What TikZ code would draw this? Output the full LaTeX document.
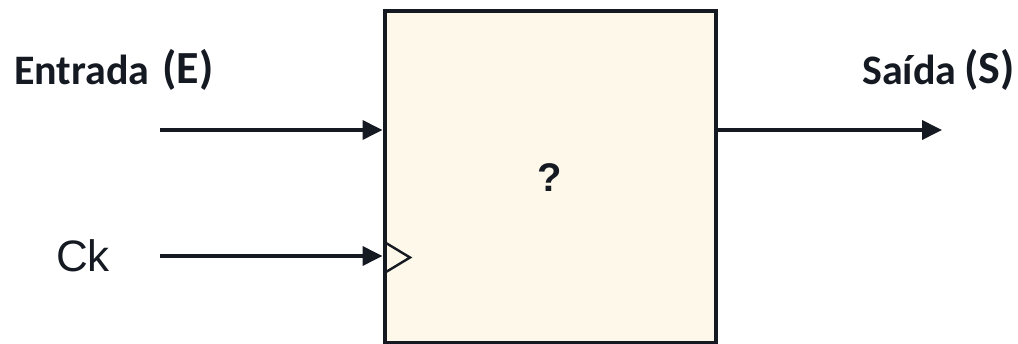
\documentclass[tikz,border=0pt]{standalone}
\usepackage{fontspec}
\setmainfont{Carlito}
\newfontfamily\arialf{Liberation Sans}
\usetikzlibrary{arrows.meta}
\definecolor{ink}{HTML}{151A22}
\definecolor{cream}{HTML}{FDF8E9}
\tikzset{
  lbl/.style={anchor=base west, inner sep=0pt, text=ink, font=\bfseries\fontsize{42}{44}\selectfont},
  biglbl/.style={lbl, font=\bfseries\fontsize{46}{48}\selectfont},
  conn/.style={draw=ink, line width=3.8pt, -{Triangle[length=20pt,width=19pt]}},
  blockbox/.style={draw=ink, fill=cream, line width=4pt, minimum width=331pt, minimum height=332pt, inner sep=0pt}
}
\begin{document}
\begin{tikzpicture}[x=1pt,y=-1pt]
\useasboundingbox (0,0) rectangle (1018,344);
\node[blockbox] (blk) at (550,177) {};
\node[anchor=base, inner sep=0pt, text=ink, font=\arialf\bfseries\fontsize{40}{42}\selectfont] (q) at (550,192) {?};
\node[lbl] (ent) at (14,85) {Entrada};
\node[biglbl] (eE) at (162,84) {(E)};
\node[lbl] (sai) at (862,85) {Saída};
\node[biglbl] (sS) at (964,84) {(S)};
\node[anchor=base west, inner sep=0pt, text=ink, font=\arialf\fontsize{44}{46}\selectfont] (ck) at (56,272) {Ck};
\coordinate (ein) at (160,130);
\coordinate (ckin) at (160,256);
\coordinate (sout) at (942,130);
\draw[conn] (ein) -- (ein -| blk.west);
\draw[conn] (ckin) -- (ckin -| blk.west);
\draw[conn] (sout -| blk.east) -- (sout);
\coordinate (ta) at (386,243);
\coordinate (tb) at (410,257.5);
\coordinate (tc) at (386,272);
\draw[draw=ink, line width=2.4pt, line join=miter] (ta) -- (tb) -- (tc);
\end{tikzpicture}
\end{document}
